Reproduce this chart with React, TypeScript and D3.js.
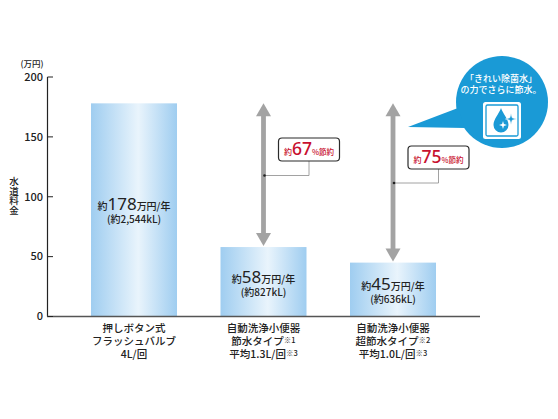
import * as d3 from 'd3';

const categories = ['push', 'auto', 'super'];
const costValues = [178, 58, 45];
const costLabels = ['178', '58', '45'];
const volumeLabels = ['(約2,544kL)', '(約827kL)', '(約636kL)'];
const categoryLines = [
  [['押しボタン式', ''], ['フラッシュバルブ', ''], ['4L/回', '']],
  [['自動洗浄小便器', ''], ['節水タイプ', '※1'], ['平均1.3L/回', '※3']],
  [['自動洗浄小便器', ''], ['超節水タイプ', '※2'], ['平均1.0L/回', '※3']],
];
const yTicks = [0, 50, 100, 150, 200];
const savings = [
  { index: 1, pct: '67', boxTop: 138, lineY: 175.5 },
  { index: 2, pct: '75', boxTop: 146, lineY: 183 },
];

const WIDTH = 558;
const HEIGHT = 419;
const FONT = '"Noto Sans CJK JP", "Noto Sans", sans-serif';
const INK = '#222';
const BLUE = '#1a9ad6';

const y = d3.scaleLinear().domain([0, 200]).range([316.5, 77]);
const x = d3.scaleBand<string>().domain(categories).range([91, 436]).paddingInner(0.336);

function Arrow({ cx, top, bottom }: { cx: number; top: number; bottom: number }) {
  const head = 13;
  const hw = 7.5;
  return (
    <g fill="#a3a3a3">
      <rect x={cx - 2.4} y={top + head - 1} width={4.8} height={bottom - top - 2 * head + 2} />
      <path d={`M${cx},${top}L${cx + hw},${top + head}L${cx - hw},${top + head}Z`} />
      <path d={`M${cx},${bottom}L${cx + hw},${bottom - head}L${cx - hw},${bottom - head}Z`} />
    </g>
  );
}

export default function App() {
  const bw = x.bandwidth();
  return (
    <svg
      width={WIDTH}
      height={HEIGHT}
      viewBox={`0 0 ${WIDTH} ${HEIGHT}`}
      style={{ position: 'absolute', left: 0, top: 0, background: '#fff' }}
      fontFamily={FONT}
    >
      <defs>
        <linearGradient id="bar-grad" x1="0" x2="1" y1="0" y2="0">
          <stop offset="0%" stopColor="#9fcdf0" />
          <stop offset="55%" stopColor="#e9f4fc" />
          <stop offset="100%" stopColor="#9fcdf0" />
        </linearGradient>
      </defs>

      {/* bars */}
      {categories.map((c, i) => (
        <rect key={c} x={x(c)} y={y(costValues[i])} width={bw} height={y(0) - y(costValues[i])} fill="url(#bar-grad)" />
      ))}

      {/* axes */}
      <line x1={47.5} x2={47.5} y1={y(200)} y2={y(0)} stroke={INK} strokeWidth={1.2} />
      <line x1={47} x2={480} y1={y(0)} y2={y(0)} stroke="#555" strokeWidth={1.4} />
      {yTicks.map(t => (
        <g key={t}>
          <line x1={47.5} x2={53} y1={y(t)} y2={y(t)} stroke={INK} strokeWidth={1} />
          <text x={43} y={y(t) + 3.8} textAnchor="end" fontSize={11} fontWeight={500} fill={INK}>{t}</text>
        </g>
      ))}
      <text x={32} y={67} textAnchor="middle" fontSize={8.5} fontWeight={500} fill={INK}>(万円)</text>
      <text x={14} y={177} fontSize={9.5} fontWeight={500} fill={INK} style={{ writingMode: 'vertical-rl' }}>水道料金</text>

      {/* bar value labels */}
      {categories.map((c, i) => {
        const cx = x(c)! + bw / 2;
        const mid = [214, 287, 294][i];
        return (
          <g key={c} fill={INK} textAnchor="middle" fontWeight={500}>
            <text x={cx} y={mid - 4}>
              <tspan fontSize={10}>約</tspan>
              <tspan fontSize={17} fontFamily='"Noto Sans", sans-serif' fontWeight={400}>{costLabels[i]}</tspan>
              <tspan fontSize={10}>万円/年</tspan>
            </text>
            <text x={cx} y={mid + 9} fontSize={10}>{volumeLabels[i]}</text>
          </g>
        );
      })}

      {/* category labels */}
      {categories.map((c, i) => (
        <g key={c} textAnchor="middle" fill={INK} fontSize={10.5} fontWeight={500}>
          {categoryLines[i].map(([t, note], j) => (
            <text key={j} x={x(c)! + bw / 2} y={332 + j * 13}>
              {t}
              {note && <tspan fontSize={7.5} dy={-2}>{note}</tspan>}
            </text>
          ))}
        </g>
      ))}

      {/* savings arrows */}
      {savings.map(s => {
        const cx = x(categories[s.index])! + bw / 2;
        const boxX = cx + 15;
        const boxW = 61;
        const boxH = 23;
        const midX = boxX + boxW / 2;
        return (
          <g key={s.index}>
            <Arrow cx={cx} top={y(costValues[0])} bottom={y(costValues[s.index]) - 1} />
            <path d={`M${cx + 1},${s.lineY}H${midX}V${s.boxTop + boxH}`} fill="none" stroke="#8a8a8a" strokeWidth={0.8} />
            <circle cx={cx + 1} cy={s.lineY} r={1.3} fill="#222" />
            <rect x={boxX} y={s.boxTop} width={boxW} height={boxH} rx={3.5} fill="#fff" stroke="#2b2b2b" strokeWidth={1.2} />
            <text x={midX} y={s.boxTop + 17} textAnchor="middle" fill="#c8102e" fontWeight={500}>
              <tspan fontSize={8}>約</tspan>
              <tspan fontSize={17.5} fontFamily='"Noto Sans", sans-serif'>{s.pct}</tspan>
              <tspan fontSize={7.5}>%節約</tspan>
            </text>
          </g>
        );
      })}

      {/* callout bubble */}
      <g>
        <circle cx={502} cy={102} r={46} fill={BLUE} />
        <path d="M408,127L458,108L465,128Z" fill={BLUE} />
        <text x={501} y={82} textAnchor="middle" fontSize={9} fontWeight={500} fill="#fff">「きれい除菌水」</text>
        <text x={501} y={93} textAnchor="middle" fontSize={9} fontWeight={500} fill="#fff">の力でさらに節水。</text>
        <rect x={483} y={102} width={38} height={37} rx={2.5} fill="#fff" />
        <rect x={486} y={105} width={32} height={31} rx={1.5} fill="#fff" stroke={BLUE} strokeWidth={1.3} />
        <path d="M501,108C499,114 493.5,119 493.5,125A7.5,7.5 0 0 0 508.5,125C508.5,119 503,114 501,108Z" fill={BLUE} />
        <path d="M511,113.5L512.2,117.8L516.5,119L512.2,120.2L511,124.5L509.8,120.2L505.5,119L509.8,117.8Z" fill={BLUE} stroke="#fff" strokeWidth={0.6} />
        <path d="M503,121L503.9,124.1L507,125L503.9,125.9L503,129L502.1,125.9L499,125L502.1,124.1Z" fill="#fff" />
      </g>
    </svg>
  );
}
